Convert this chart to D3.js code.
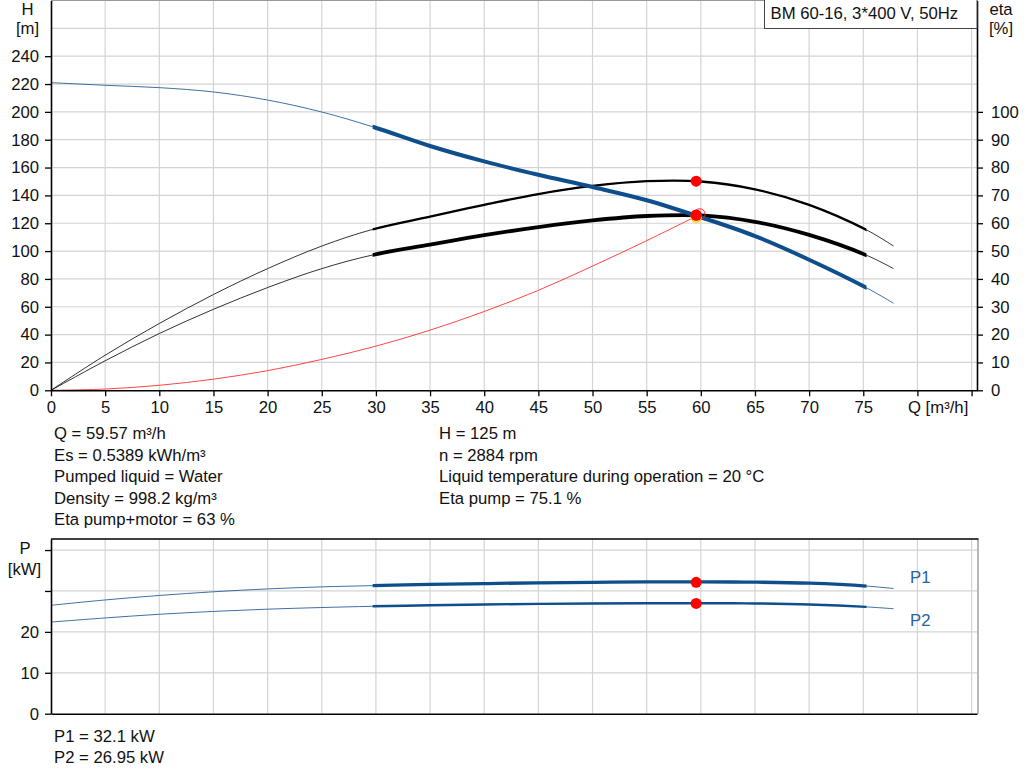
<!DOCTYPE html>
<html>
<head>
<meta charset="utf-8">
<script src="https://cdn.jsdelivr.net/npm/d3@7"></script>
<style>
  body { margin: 0; background: #fff; }
  svg { display: block; font-family: "Liberation Sans", Arial, sans-serif; }
  text { fill: #111; }
</style>
</head>
<body>
<script>
// values
var flowQ    = [0, 5, 10, 15, 20, 25, 29.7, 35, 40, 45, 50, 55, 60, 65, 70, 75.3, 77.8];
var headH    = [221, 219.1, 217.4, 214.3, 208.5, 199.9, 189.3, 175.5, 164.4, 154.8, 146.0, 136.5, 124.3, 110.8, 93.8, 73.6, 62.5];
var etaPump  = [0, 12.6, 24.0, 34.4, 43.7, 51.8, 57.8, 62.4, 66.6, 70.5, 73.4, 75.1, 75.0, 72.2, 66.6, 57.6, 51.8];
var etaTotal = [0, 10.6, 20.4, 29.1, 36.9, 43.7, 48.6, 52.3, 55.7, 58.6, 61.0, 62.6, 62.8, 60.5, 55.8, 48.5, 43.7];
var powerP1  = [26.5, 27.8, 28.9, 29.8, 30.5, 31.0, 31.3, 31.6, 31.8, 32.0, 32.1, 32.2, 32.2, 32.15, 31.9, 31.2, 30.6];
var powerP2  = [22.4, 23.4, 24.3, 25.0, 25.55, 25.95, 26.25, 26.5, 26.7, 26.85, 26.95, 27.0, 27.0, 26.95, 26.7, 26.1, 25.65];

var systemQ = [0, 5, 10, 15, 20, 25, 30, 35, 40, 45, 50, 55, 59.57];
var systemH = [0, 0.9, 3.6, 8.0, 14.1, 22.2, 31.7, 43.2, 56.6, 71.8, 89.2, 107.5, 125];

var rangeMin = 29.7, rangeMax = 75.3;   // thick part of the curves
var duty = {q: 59.57, h: 125, etaPump: 75.1, etaTotal: 63, p1: 32.1, p2: 26.95};

var xTicks = [0, 5, 10, 15, 20, 25, 30, 35, 40, 45, 50, 55, 60, 65, 70, 75, 80, 85];
var hTicks = [0, 20, 40, 60, 80, 100, 120, 140, 160, 180, 200, 220, 240];
var hGrid = [20, 40, 60, 80, 100, 120, 140, 160, 180, 200, 220, 240, 260];
var etaTicks = [0, 10, 20, 30, 40, 50, 60, 70, 80, 90, 100];
var pTicks = [0, 10, 20, 30, 40];
var pLabels = [0, 10, 20];

var infoLeft = ["Q = 59.57 m\u00b3/h", "Es = 0.5389 kWh/m\u00b3", "Pumped liquid = Water", "Density = 998.2 kg/m\u00b3", "Eta pump+motor = 63 %"];
var infoRight = ["H = 125 m", "n = 2884 rpm", "Liquid temperature during operation = 20 \u00b0C", "Eta pump = 75.1 %"];
var infoPower = ["P1 = 32.1 kW", "P2 = 26.95 kW"];

var width = 1024, height = 781;
var fs = "16.7px";
var blue = "#0e4e8c", gridCol = "#d4d4d4";

var svg = d3.select("body").append("svg").attr("width", width).attr("height", height);

var x = d3.scaleLinear().domain([0, 85.5]).range([51, 977]);
var yH = d3.scaleLinear().domain([0, 280]).range([390.3, 0.5]);
var yEta = d3.scaleLinear().domain([0, 140]).range([390.3, 0.5]);
var yP = d3.scaleLinear().domain([0, 42.7]).range([713.7, 539]);

function pts(qs, vs) { return qs.map(function(q, i){ return {q: q, v: vs[i]}; }); }

// ---------- top chart ----------
var topG = svg.append("g");

topG.append("g").selectAll("line").data(hGrid).enter().append("line")
    .attr("x1", x(0)).attr("x2", x(85.5))
    .attr("y1", function(d){ return yH(d); }).attr("y2", function(d){ return yH(d); })
    .attr("stroke", gridCol).attr("stroke-width", 1.2);
topG.append("g").selectAll("line").data(xTicks.slice(1)).enter().append("line")
    .attr("x1", function(d){ return x(d); }).attr("x2", function(d){ return x(d); })
    .attr("y1", yH(0)).attr("y2", yH(280))
    .attr("stroke", gridCol).attr("stroke-width", 1.2);
topG.append("line").attr("x1", x(0)).attr("x2", x(85.5)).attr("y1", 0.5).attr("y2", 0.5)
    .attr("stroke", "#999").attr("stroke-width", 1);

var defs = svg.append("defs");
defs.append("clipPath").attr("id", "dutyRangeTop").append("rect")
    .attr("x", x(rangeMin)).attr("width", x(rangeMax) - x(rangeMin)).attr("y", 0).attr("height", 400);
defs.append("clipPath").attr("id", "dutyRangeBot").append("rect")
    .attr("x", x(rangeMin)).attr("width", x(rangeMax) - x(rangeMin)).attr("y", 530).attr("height", 200);

function drawCurve(g, data, yScale, color, thin, thick, clip) {
    var line = d3.line().curve(d3.curveCatmullRom.alpha(0.5))
        .x(function(d){ return x(d.q); })
        .y(function(d){ return yScale(d.v); });
    g.append("path").attr("d", line(data)).attr("fill", "none")
        .attr("stroke", color).attr("stroke-width", thin).attr("stroke-opacity", 0.8);
    if (thick) {
        g.append("path").attr("d", line(data)).attr("fill", "none")
            .attr("stroke", color).attr("stroke-width", thick)
            .attr("clip-path", "url(#" + clip + ")");
    }
}

var systemLine = d3.line().curve(d3.curveCatmullRom.alpha(0.5))
    .x(function(d){ return x(d.q); }).y(function(d){ return yH(d.v); });
topG.append("path").attr("d", systemLine(pts(systemQ, systemH)))
    .attr("fill", "none").attr("stroke", "#ff3030").attr("stroke-width", 0.9);

drawCurve(topG, pts(flowQ, etaPump), yEta, "#000", 1, 2.3, "dutyRangeTop");
drawCurve(topG, pts(flowQ, etaTotal), yEta, "#000", 1, 3.8, "dutyRangeTop");
drawCurve(topG, pts(flowQ, headH), yH, blue, 1, 4, "dutyRangeTop");

// duty point markers
topG.append("circle").attr("cx", x(duty.q) + 3.5).attr("cy", yH(duty.h) - 2)
    .attr("r", 5.5).attr("fill", "none").attr("stroke", "#ff2020").attr("stroke-width", 1);
topG.append("circle").attr("cx", x(duty.q)).attr("cy", yH(duty.h) + 1)
    .attr("r", 5).attr("fill", "none").attr("stroke", "#ffd400").attr("stroke-width", 1.5);
topG.append("circle").attr("cx", x(duty.q)).attr("cy", yEta(duty.etaTotal)).attr("r", 5.5).attr("fill", "#ff0000");
topG.append("circle").attr("cx", x(duty.q)).attr("cy", yH(duty.h) - 1).attr("r", 5.5).attr("fill", "#ff0000");
topG.append("circle").attr("cx", x(duty.q)).attr("cy", yEta(duty.etaPump)).attr("r", 5.5).attr("fill", "#ff0000");

// axes
function styleAxis(g) {
    g.selectAll("path.domain").attr("stroke", "#000").attr("stroke-width", 1.6);
    g.selectAll(".tick line").attr("stroke", "#000").attr("stroke-width", 1.3);
    g.selectAll(".tick text").style("font-size", fs).attr("fill", "#111")
        .style("font-family", "'Liberation Sans', Arial, sans-serif");
}

topG.append("g").attr("transform", "translate(" + x(0) + ",0)")
    .call(d3.axisLeft(yH).tickValues(hTicks).tickSize(6).tickSizeOuter(0).tickPadding(6))
    .call(styleAxis);
topG.append("g").attr("transform", "translate(" + x(85.5) + ",0)")
    .call(d3.axisRight(yEta).tickValues(etaTicks).tickSize(6).tickSizeOuter(0).tickPadding(8))
    .call(styleAxis);
topG.append("g").attr("transform", "translate(0," + yH(0) + ")")
    .call(d3.axisBottom(x).tickValues(xTicks).tickSize(6).tickSizeOuter(0).tickPadding(5)
        .tickFormat(function(d){ return d <= 75 ? d : ""; }))
    .call(styleAxis);

topG.append("text").attr("x", 908).attr("y", 412.5).style("font-size", fs).text("Q [m\u00b3/h]");
topG.append("text").attr("x", 27.5).attr("y", 14.5).attr("text-anchor", "middle").style("font-size", fs).text("H");
topG.append("text").attr("x", 27.5).attr("y", 33.5).attr("text-anchor", "middle").style("font-size", fs).text("[m]");
topG.append("text").attr("x", 1001).attr("y", 15).attr("text-anchor", "middle").style("font-size", fs).text("eta");
topG.append("text").attr("x", 1001).attr("y", 33.5).attr("text-anchor", "middle").style("font-size", fs).text("[%]");

topG.append("rect").attr("x", 764.5).attr("y", -1).attr("width", 212.5).attr("height", 29.5)
    .attr("fill", "#fff").attr("stroke", "#444").attr("stroke-width", 1);
topG.append("text").attr("x", 770.5).attr("y", 19).style("font-size", fs).text("BM 60-16, 3*400 V, 50Hz");

// info text
svg.append("g").selectAll("text").data(infoLeft).enter().append("text")
    .attr("x", 54).attr("y", function(d, i){ return 439 + i * 21.6; })
    .style("font-size", fs).text(function(d){ return d; });
svg.append("g").selectAll("text").data(infoRight).enter().append("text")
    .attr("x", 439).attr("y", function(d, i){ return 439 + i * 21.6; })
    .style("font-size", fs).text(function(d){ return d; });

// ---------- bottom chart ----------
var botG = svg.append("g");

botG.append("g").selectAll("line").data(pTicks.slice(1)).enter().append("line")
    .attr("x1", x(0)).attr("x2", x(85.5))
    .attr("y1", function(d){ return yP(d); }).attr("y2", function(d){ return yP(d); })
    .attr("stroke", gridCol).attr("stroke-width", 1.2);
botG.append("g").selectAll("line").data(xTicks.slice(1)).enter().append("line")
    .attr("x1", function(d){ return x(d); }).attr("x2", function(d){ return x(d); })
    .attr("y1", yP(0)).attr("y2", yP(42.7))
    .attr("stroke", gridCol).attr("stroke-width", 1.2);
botG.append("line").attr("x1", x(85.5) + 1).attr("x2", x(85.5) + 1).attr("y1", yP(42.7)).attr("y2", yP(0))
    .attr("stroke", "#888").attr("stroke-width", 1.2);
botG.append("line").attr("x1", x(0)).attr("x2", x(85.5) + 1.5).attr("y1", yP(42.7)).attr("y2", yP(42.7))
    .attr("stroke", "#000").attr("stroke-width", 1.3);

drawCurve(botG, pts(flowQ, powerP1), yP, blue, 1, 3.3, "dutyRangeBot");
drawCurve(botG, pts(flowQ, powerP2), yP, blue, 1, 2.4, "dutyRangeBot");

botG.append("circle").attr("cx", x(duty.q)).attr("cy", yP(duty.p1)).attr("r", 5.5).attr("fill", "#ff0000");
botG.append("circle").attr("cx", x(duty.q)).attr("cy", yP(duty.p2)).attr("r", 5.5).attr("fill", "#ff0000");

botG.append("g").attr("transform", "translate(" + x(0) + ",0)")
    .call(d3.axisLeft(yP).tickValues(pTicks).tickSize(6).tickSizeOuter(0).tickPadding(6)
        .tickFormat(function(d){ return pLabels.indexOf(d) >= 0 ? d : ""; }))
    .call(styleAxis);
botG.append("g").attr("transform", "translate(0," + yP(0) + ")")
    .call(d3.axisBottom(x).tickValues([]).tickSizeOuter(0))
    .call(styleAxis);

botG.append("text").attr("x", 25).attr("y", 554).attr("text-anchor", "middle").style("font-size", fs).text("P");
botG.append("text").attr("x", 24.5).attr("y", 574.5).attr("text-anchor", "middle").style("font-size", fs).text("[kW]");
botG.append("text").attr("x", 910).attr("y", 583).style("font-size", fs).style("fill", "#2363a6").text("P1");
botG.append("text").attr("x", 910).attr("y", 626).style("font-size", fs).style("fill", "#2363a6").text("P2");

svg.append("g").selectAll("text").data(infoPower).enter().append("text")
    .attr("x", 54).attr("y", function(d, i){ return 741.5 + i * 21.6; })
    .style("font-size", fs).text(function(d){ return d; });
</script>
</body>
</html>
